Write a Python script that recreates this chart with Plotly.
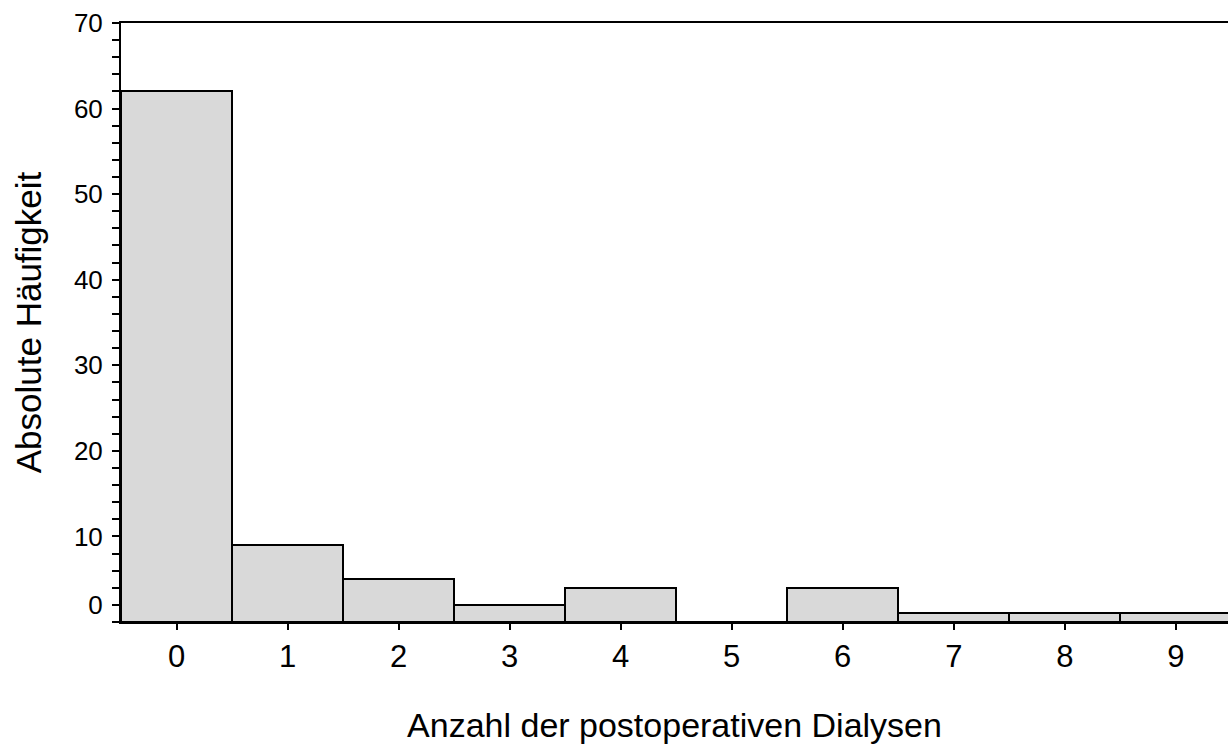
import plotly.graph_objects as go

# Number of postoperative dialyses per patient and how often each count occurred
dialysen = [0, 1, 2, 3, 4, 5, 6, 7, 8, 9]
haeufigkeit = [62, 9, 5, 2, 4, 0, 4, 1, 1, 1]

# y-axis labels (the lowest label sits at the first minor step)
y_tickvals = [2, 10, 20, 30, 40, 50, 60, 70]
y_ticktext = ["0", "10", "20", "30", "40", "50", "60", "70"]

FONT = "Liberation Sans, Arial, sans-serif"

fig = go.Figure(
    go.Bar(
        x=dialysen,
        y=haeufigkeit,
        width=1.0,
        marker=dict(color="#d9d9d9", line=dict(color="black", width=2)),
        hoverinfo="x+y",
    )
)

fig.update_layout(
    width=1228,
    height=745,
    margin=dict(l=121, r=0, t=23, b=123, autoexpand=False),
    paper_bgcolor="white",
    plot_bgcolor="white",
    showlegend=False,
    bargap=0,
    font=dict(family=FONT, color="black"),
    xaxis=dict(
        range=[-0.5, 9.47],
        tickmode="array",
        tickvals=dialysen,
        ticktext=[str(v) for v in dialysen],
        ticks="outside",
        ticklen=6,
        tickwidth=2,
        tickcolor="black",
        tickfont=dict(size=31, family=FONT, color="black"),
        showline=True,
        linecolor="black",
        linewidth=2,
        mirror=True,
        showgrid=False,
        zeroline=False,
        title=dict(
            text="Anzahl der postoperativen Dialysen",
            font=dict(size=34, family=FONT, color="black"),
            standoff=40,
        ),
        automargin=False,
    ),
    yaxis=dict(
        range=[0, 70],
        tickmode="array",
        tickvals=y_tickvals,
        ticktext=y_ticktext,
        ticks="outside",
        ticklen=7,
        tickwidth=2,
        tickcolor="black",
        tickfont=dict(size=26, family=FONT, color="black"),
        ticklabelstandoff=4,
        minor=dict(ticks="outside", ticklen=7, tickwidth=2, tickcolor="black",
                   tickmode="linear", tick0=0, dtick=2),
        showline=True,
        linecolor="black",
        linewidth=2,
        mirror=False,
        showgrid=False,
        zeroline=False,
        title=dict(
            text="Absolute Häufigkeit",
            font=dict(size=35, family=FONT, color="black"),
            standoff=22,
        ),
        automargin=False,
    ),
    shapes=[
        # short overhang of the baseline to the left of the y-axis
        dict(type="line", xref="paper", yref="paper", x0=-0.0055, x1=0, y0=0, y1=0,
             line=dict(color="black", width=2)),
    ],
)

fig.write_html("out.html")
